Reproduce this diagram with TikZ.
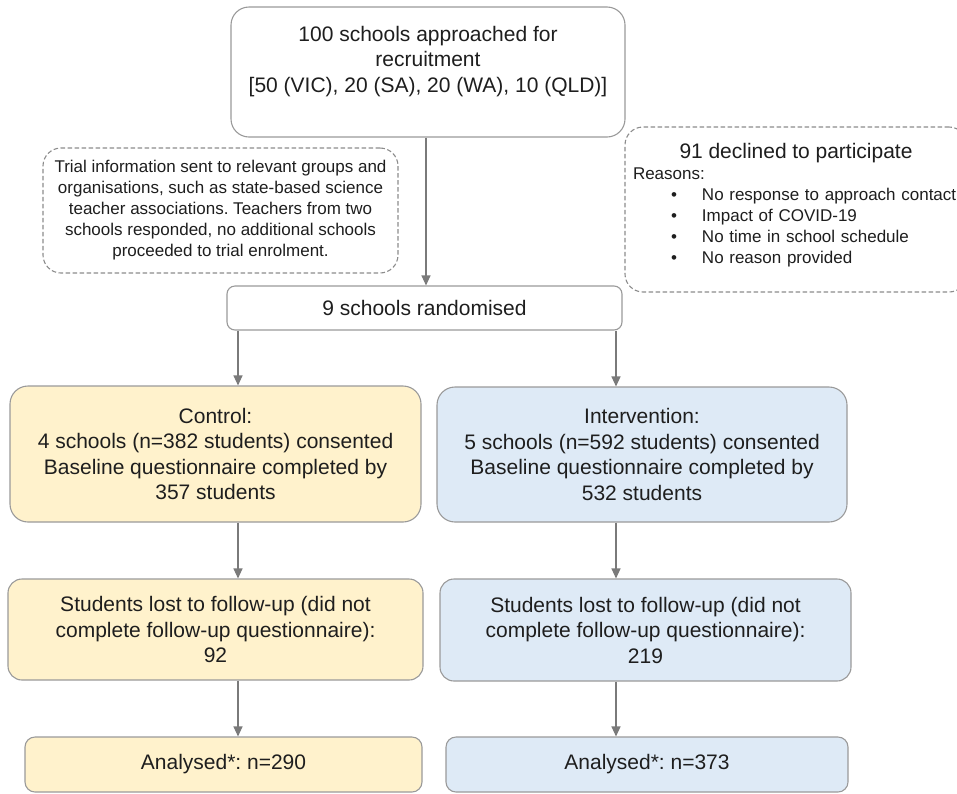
\documentclass[tikz,border=0pt]{standalone}
\usepackage{fontspec}
\setmainfont{Liberation Sans}
\frenchspacing
\usetikzlibrary{arrows.meta}
\definecolor{boxline}{HTML}{9A9A9A}
\definecolor{dashline}{HTML}{8C8C8C}
\definecolor{arrline}{HTML}{7A7A7A}
\definecolor{ctrlfill}{HTML}{FFF2CC}
\definecolor{intfill}{HTML}{DEEAF6}
\definecolor{txt}{HTML}{1E1E1E}
\tikzset{ %boxes
  {stage/.style}={rectangle, draw=boxline, line width=1.1pt, fill=white,
                  rounded corners=#1, text=txt, align=center, inner sep=0pt,
                  font=\fontsize{21}{25.5}\selectfont},
  stage/.default=18pt,
  {note/.style}={stage, draw=dashline, dash pattern=on 4.5pt off 2.5pt,
                 font=\fontsize{17}{21}\selectfont},
  {ctrlbox/.style}={stage=#1, fill=ctrlfill},
  ctrlbox/.default=18pt,
  {intbox/.style}={stage=#1, fill=intfill},
  intbox/.default=18pt,
  {flow/.style}={draw=arrline, line width=1.2pt,
                 -{Triangle[length=10pt,width=9pt]}},
}
\newcommand{\reason}[1]{\makebox[69pt][r]{\textbullet\hspace{25pt}}#1}

\begin{document}
\begin{tikzpicture}[x=1pt,y=-1pt]
\useasboundingbox (0,0) rectangle (957,793);

\node[stage, minimum width=394pt, minimum height=130pt] (approached) at (428,72)
  {100 schools approached for\\recruitment\\ {}[50 (VIC), 20 (SA), 20 (WA), 10 (QLD)]\\ \mbox{}};
\node[note, minimum width=355pt, minimum height=125pt] (trialinfo) at (220.5,210.5)
  {Trial information sent to relevant groups and\\organisations, such as state-based science\\
   teacher associations. Teachers from two\\schools responded, no additional schools\\
   proceeded to trial enrolment.};
\node[note, minimum width=342pt, minimum height=165pt, text width=326pt,
      align=left, inner xsep=8pt] (declined) at (796,209.5)
  {{\centering\fontsize{21}{25}\selectfont 91 declined to participate\par}
   Reasons:\\
   \reason{No response to approach contact}\\
   \reason{Impact of COVID-19}\\
   \reason{No time in school schedule}\\
   \reason{No reason provided}\par\vspace{8pt}};
\node[stage=8pt, minimum width=395pt, minimum height=44pt] (randomised) at (424.5,308)
  {9 schools randomised};

\node[ctrlbox, minimum width=411pt, minimum height=136pt] (control) at (215.5,454)
  {Control:\\4 schools (n=382 students) consented\\Baseline questionnaire completed by\\357 students};
\node[intbox, minimum width=410pt, minimum height=135pt] (intervention) at (642,454.5)
  {Intervention:\\5 schools (n=592 students) consented\\Baseline questionnaire completed by\\532 students};

\node[ctrlbox=14pt, minimum width=415pt, minimum height=101pt] (ctrllost) at (215.5,629.5)
  {Students lost to follow-up (did not\\complete follow-up questionnaire):\\92};
\node[intbox=14pt, minimum width=411pt, minimum height=102pt] (intlost) at (645.5,630)
  {Students lost to follow-up (did not\\complete follow-up questionnaire):\\219};

\node[ctrlbox=10pt, minimum width=397pt, minimum height=55pt] (ctrlanal) at (223.5,764.5)
  {\raisebox{5pt}{Analysed*: n=290}};
\node[intbox=10pt, minimum width=402pt, minimum height=55pt] (intanal) at (647,764.5)
  {\raisebox{5pt}{Analysed*: n=373}};

\coordinate (cx) at (238,0);
\coordinate (ix) at (616,0);
\draw[flow] (approached.south -| 426,0) -- (randomised.north -| 426,0);
\foreach \a/\b in {randomised/control, control/ctrllost, ctrllost/ctrlanal}
  \draw[flow] (\a.south -| cx) -- (\b.north -| cx);
\foreach \a/\b in {randomised/intervention, intervention/intlost, intlost/intanal}
  \draw[flow] (\a.south -| ix) -- (\b.north -| ix);
\end{tikzpicture}
\end{document}
